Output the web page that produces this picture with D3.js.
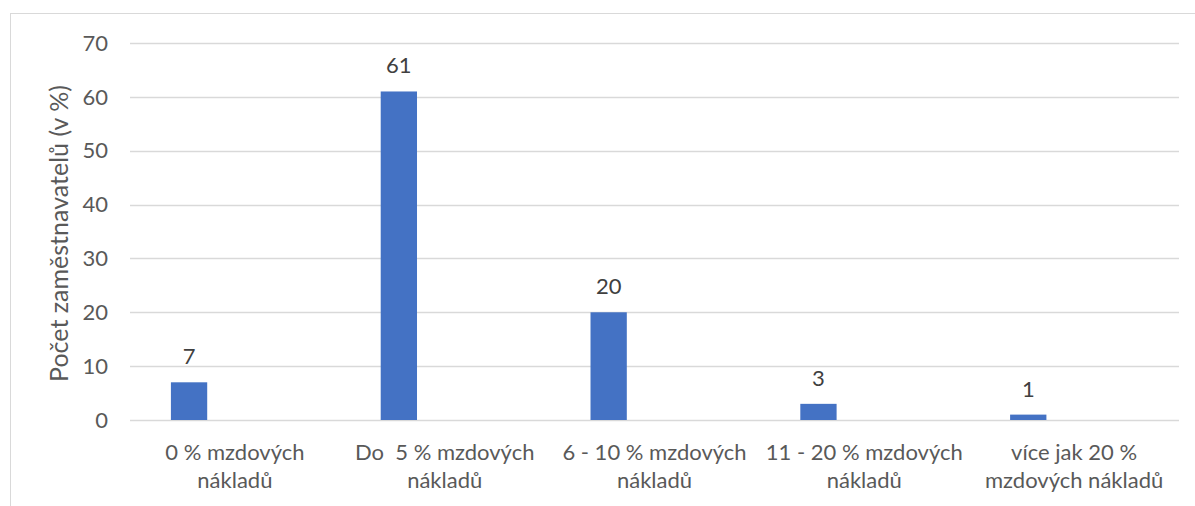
<!DOCTYPE html>
<html>
<head>
<meta charset="utf-8">
<script src="https://cdn.jsdelivr.net/npm/d3@7"></script>
<style>
    html, body { margin: 0; padding: 0; background: #fff; }
    svg { display: block; font-family: Lato, "Open Sans", sans-serif; }
</style>
</head>
<body>
<div id="chart"></div>
<script>
// Data
const categories = [
    ['0 % mzdových', 'nákladů'],
    ['Do  5 % mzdových', 'nákladů'],
    ['6 - 10 % mzdových', 'nákladů'],
    ['11 - 20 % mzdových', 'nákladů'],
    ['více jak 20 %', 'mzdových nákladů']
];
const values = [7, 61, 20, 3, 1];
const yTicks = [0, 10, 20, 30, 40, 50, 60, 70];
const yTitle = 'Počet zaměstnavatelů (v %)';

const width = 1195, height = 506;
const margin = { top: 43, right: 16, bottom: 86, left: 130 };
const fontSize = 22;

const svg = d3.select('#chart')
    .append('svg')
    .attr('width', width)
    .attr('height', height);

// Chart frame (right and bottom edges run off the picture)
svg.append('rect')
    .attr('x', 10.5)
    .attr('y', 13.5)
    .attr('width', width)
    .attr('height', height)
    .attr('fill', 'none')
    .attr('stroke', '#d9d9d9')
    .attr('stroke-width', 1);

const keys = categories.map(c => c.join(' '));

const x = d3.scaleBand()
    .domain(keys)
    .range([margin.left, width - margin.right])
    .paddingInner(0)
    .paddingOuter(0);

const y = d3.scaleLinear()
    .domain([0, 70])
    .range([height - margin.bottom, margin.top]);

// Gridlines
svg.append('g')
    .selectAll('line')
    .data(yTicks)
    .join('line')
    .attr('x1', margin.left)
    .attr('x2', width - margin.right)
    .attr('y1', d => Math.round(y(d)) + 0.5)
    .attr('y2', d => Math.round(y(d)) + 0.5)
    .attr('stroke', '#d9d9d9')
    .attr('stroke-width', 1.5);

// Y tick labels
svg.append('g')
    .selectAll('text')
    .data(yTicks)
    .join('text')
    .attr('x', 108)
    .attr('y', d => y(d))
    .attr('dy', '0.35em')
    .attr('text-anchor', 'end')
    .style('font-size', fontSize + 'px')
    .style('fill', '#595959')
    .text(d => d);

// Y axis title
svg.append('text')
    .attr('transform', `translate(59,${(y(0) + y(70)) / 2 + 2}) rotate(-90)`)
    .attr('dy', '0.35em')
    .attr('text-anchor', 'middle')
    .style('font-size', '25px')
    .style('fill', '#595959')
    .text(yTitle);

// Bars sit in the left part of each category slot
const barOffset = x.bandwidth() * 0.195;
const barWidth = x.bandwidth() * 0.173;

svg.append('g')
    .selectAll('rect')
    .data(values)
    .join('rect')
    .attr('x', (d, i) => x(keys[i]) + barOffset)
    .attr('y', d => y(d))
    .attr('width', barWidth)
    .attr('height', d => y(0) - y(d))
    .attr('fill', '#4472C4');

// Data labels
svg.append('g')
    .selectAll('text')
    .data(values)
    .join('text')
    .attr('x', (d, i) => x(keys[i]) + barOffset + barWidth / 2)
    .attr('y', d => y(d) - 18)
    .attr('text-anchor', 'middle')
    .style('font-size', fontSize + 'px')
    .style('fill', '#404040')
    .text(d => d);

// Category labels
const catLabels = svg.append('g')
    .selectAll('text')
    .data(categories)
    .join('text')
    .attr('x', (d, i) => x(keys[i]) + x.bandwidth() / 2)
    .attr('y', 452)
    .attr('text-anchor', 'middle')
    .style('font-size', fontSize + 'px')
    .style('fill', '#595959')
    .style('white-space', 'pre');

catLabels.selectAll('tspan')
    .data(d => d)
    .join('tspan')
    .attr('x', function() { return this.parentNode.getAttribute('x'); })
    .attr('dy', (d, i) => i === 0 ? '0.35em' : '28')
    .text(d => d);
</script>
</body>
</html>
